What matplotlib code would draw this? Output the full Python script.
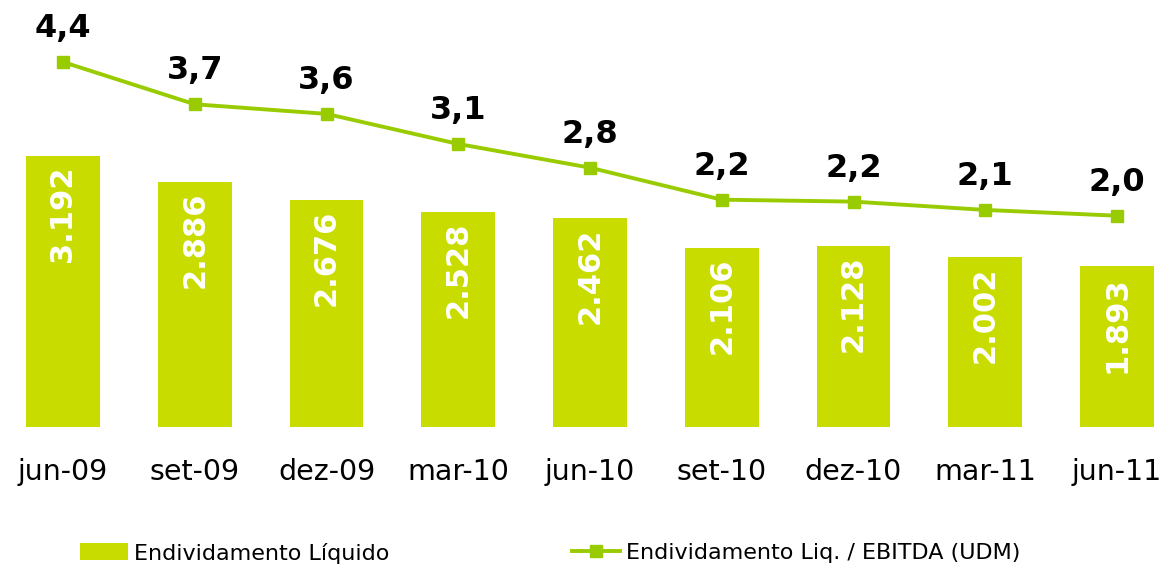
import matplotlib
matplotlib.use("Agg")
import matplotlib.pyplot as plt

categories = ["jun-09", "set-09", "dez-09", "mar-10", "jun-10", "set-10", "dez-10", "mar-11", "jun-11"]
divida = [3192, 2886, 2676, 2528, 2462, 2106, 2128, 2002, 1893]
divida_labels = ["3.192", "2.886", "2.676", "2.528", "2.462", "2.106", "2.128", "2.002", "1.893"]
ratio = [4.4, 3.74, 3.59, 3.12, 2.75, 2.25, 2.22, 2.09, 2.0]
ratio_labels = ["4,4", "3,7", "3,6", "3,1", "2,8", "2,2", "2,2", "2,1", "2,0"]

BAR_C = "#c8dc00"
LINE_C = "#99cc00"

W, H = 1169, 570
fig = plt.figure(figsize=(W / 100, H / 100), dpi=100)
plt.rcParams["font.family"] = "DejaVu Sans"

ax = fig.add_axes([0, 1 - 427 / H, 1, 427 / H])
x = list(range(len(categories)))
bars = ax.bar(x, divida, width=0.56, color=BAR_C, label="Endividamento Líquido", zorder=2)
ax.set_xlim(-63 / 131.75, (W - 63) / 131.75)
ax.set_ylim(0, 5029)
for xi, v, lab in zip(x, divida, divida_labels):
    ax.annotate(lab, (xi, v), xytext=(0, -7), textcoords="offset points",
                rotation=90, ha="center", va="top", color="white",
                fontsize=22, fontweight="bold", zorder=3)

ax.set_xticks(x)
ax.set_xticklabels(categories, fontsize=20.5)
ax.tick_params(axis="x", length=0, pad=22)
ax.set_yticks([])
for s in ax.spines.values():
    s.set_visible(False)

ax2 = ax.twinx()
y0, y1 = 62.0, 215.7
ppu = (y1 - y0) / (4.4 - 2.0)
ax2.set_ylim(2.0 - (427 - y1) / ppu, 4.4 + y0 / ppu)
line, = ax2.plot(x, ratio, color=LINE_C, lw=2.8, marker="s", markersize=8.7,
                 label="Endividamento Liq. / EBITDA (UDM)", zorder=4)
for xi, v, lab in zip(x, ratio, ratio_labels):
    ax2.annotate(lab, (xi, v), xytext=(0, 18), textcoords="offset points",
                 ha="center", va="baseline", color="black",
                 fontsize=23, fontweight="bold")
ax2.set_yticks([])
for s in ax2.spines.values():
    s.set_visible(False)

fig.legend(handles=[bars], loc="center left", bbox_to_anchor=(80 / W, 1 - 553 / H),
           frameon=False, fontsize=16, borderpad=0, borderaxespad=0,
           handlelength=2.16, handleheight=0.8, handletextpad=0.25)
fig.legend(handles=[line], loc="center left", bbox_to_anchor=(572 / W, 1 - 553 / H),
           frameon=False, fontsize=16, borderpad=0, borderaxespad=0,
           handlelength=2.16, handletextpad=0.25, numpoints=1)

fig.savefig("out.png", dpi=100)
